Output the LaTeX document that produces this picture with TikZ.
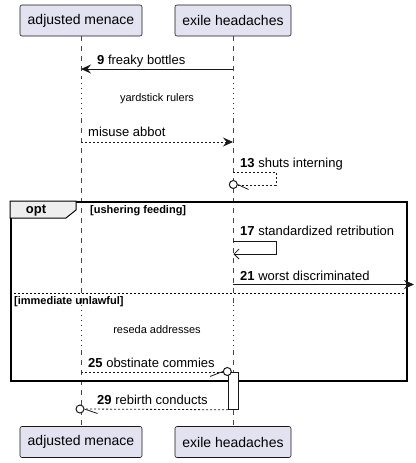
\documentclass[tikz,border=0pt]{standalone}
\usepackage{fontspec}
\setmainfont{Liberation Sans}
\usetikzlibrary{arrows.meta}
\definecolor{partfill}{HTML}{E2E2F0}
\definecolor{partline}{HTML}{181818}
\definecolor{delaycol}{HTML}{7F0033}
\definecolor{tabfill}{HTML}{EEEEEE}
\tikzset{
  part/.style={draw=partline,fill=partfill,rounded corners=2pt,line width=0.6pt,minimum height=31pt,inner sep=0pt,font=\fontsize{14}{16}\selectfont},
  life/.style={draw=partline!80,line width=0.5pt,dash pattern=on 5pt off 5pt},
  delayline/.style={draw=delaycol,line width=0.8pt,dash pattern=on 0.8pt off 4.2pt},
  msg/.style={anchor=west,inner sep=0pt,font=\fontsize{13}{15}\selectfont},
  delaytxt/.style={inner sep=0pt,font=\fontsize{11}{13}\selectfont},
  guard/.style={anchor=west,inner sep=0pt,font=\bfseries\fontsize{11}{13}\selectfont},
  solidmsg/.style={draw=partline,line width=0.8pt},
  dashmsg/.style={draw=partline,line width=0.8pt,dash pattern=on 2pt off 2pt},
  filled/.style={-{Stealth[length=10pt,width=9pt,inset=3.5pt]}},
  openh/.style={-{Straight Barb[length=5pt,width=10pt]}},
  circ/.style={circle,draw=partline,line width=1pt,minimum size=8pt,inner sep=0pt,fill=white},
}
\begin{document}
\begin{tikzpicture}[x=1pt,y=-1pt]
\useasboundingbox (0,0) rectangle (415,463);
% participants
\node[part,minimum width=122pt] (amT) at (81,20.5) {adjusted menace};
\node[part,minimum width=116pt] (ehT) at (233,20.5) {exile headaches};
\node[part,minimum width=122pt] (amB) at (81,442) {adjusted menace};
\node[part,minimum width=116pt] (ehB) at (233,442) {exile headaches};
% lifeline coordinates
\coordinate (a1) at (81,78); \coordinate (a2) at (81,118);
\coordinate (a3) at (81,305); \coordinate (a4) at (81,350);
\coordinate (e1) at (233,78); \coordinate (e2) at (233,118);
\coordinate (e3) at (233,305); \coordinate (e4) at (233,350);
\draw[life] (amT.south) -- (a1);
\draw[delayline] (a1) -- (a2);
\draw[life] (a2) -- (a3);
\draw[delayline] (a3) -- (a4);
\draw[life] (a4) -- (amB.north);
\draw[life] (ehT.south) -- (e1);
\draw[delayline] (e1) -- (e2);
\draw[life] (e2) -- (e3);
\draw[delayline] (e3) -- (e4);
\draw[life] (e4) -- (ehB.north);
% frame
\node[draw=black,line width=1.5pt,minimum width=396pt,minimum height=179pt,inner sep=0pt,anchor=north west] (frame) at (10,201) {};
\draw[fill=tabfill,draw=black,line width=1pt] (frame.north west) -- (76,201) -- (76,210) -- (66,218) -- (10,218) -- cycle;
\node[inner sep=0pt,font=\bfseries\fontsize{13}{15}\selectfont] (optl) at (36,210.5) {opt};
\draw[draw=black,line width=0.6pt,dash pattern=on 2pt off 2pt] (10,293) coordinate (elsel) -- (406,293) coordinate (elser);
\node[guard] (g1) at (90,211) {[ushering feeding]};
\node[guard] (g2) at (14,302) {[immediate unlawful]};
% message 9
\node[msg] (l9) at (97,61) {\textbf{9} freaky bottles};
\coordinate (m9s) at (233,69); \coordinate (m9e) at (81,69);
\draw[solidmsg,filled] (m9s) -- (m9e);
% delay 1
\node[delaytxt] (d1) at (157,99) {yardstick rulers};
% misuse abbot
\node[msg] (lma) at (88,132) {misuse abbot};
\coordinate (mas) at (81,142); \coordinate (mae) at (233,142);
\draw[dashmsg,filled] (mas) -- (mae);
% message 13
\node[msg] (l13) at (240,164) {\textbf{13} shuts interning};
\node[circ] (c13) at (233.3,184.5) {};
\coordinate (m13a) at (233,172); \coordinate (m13b) at (276,172); \coordinate (m13c) at (276,185);
\draw[dashmsg] (m13a) -- (m13b) -- (m13c) -- (c13.east |- m13c);
\coordinate (s13) at (248.5,189.5);
\draw[partline,line width=0.8pt] (c13.east) -- (s13);
% message 17
\node[msg] (l17) at (240,231) {\textbf{17} standardized retribution};
\coordinate (m17a) at (233,241); \coordinate (m17b) at (276,241); \coordinate (m17c) at (276,254); \coordinate (m17d) at (233.5,254);
\draw[solidmsg,openh] (m17a) -- (m17b) -- (m17c) -- (m17d);
% message 21
\node[msg] (l21) at (240,275.5) {\textbf{21} worst discriminated};
\coordinate (m21s) at (233,284.5); \coordinate (m21e) at (414,284.5);
\draw[solidmsg,filled] (m21s) -- (m21e);
% delay 2
\node[delaytxt] (d2) at (157,330) {reseda addresses};
% activation
\node[draw=partline,fill=white,line width=0.8pt,minimum width=10pt,minimum height=37pt,inner sep=0pt,anchor=north west] (act) at (228,372) {};
% message 25
\node[msg] (l25) at (88,363) {\textbf{25} obstinate commies};
\node[circ] (c25) at (227.3,371.5) {};
\coordinate (m25s) at (81,372);
\draw[dashmsg] (m25s) -- (c25.west |- m25s);
\coordinate (s25) at (210,376.5);
\draw[partline,line width=0.8pt] (c25.west) -- (s25);
% message 29
\node[msg] (l29) at (97,400) {\textbf{29} rebirth conducts};
\node[circ] (c29) at (80,409) {};
\draw[dashmsg] (act.south west) -- (c29.east);
\coordinate (s29) at (97.5,413.5);
\draw[partline,line width=0.8pt] (c29.east) -- (s29);
\end{tikzpicture}
\end{document}
